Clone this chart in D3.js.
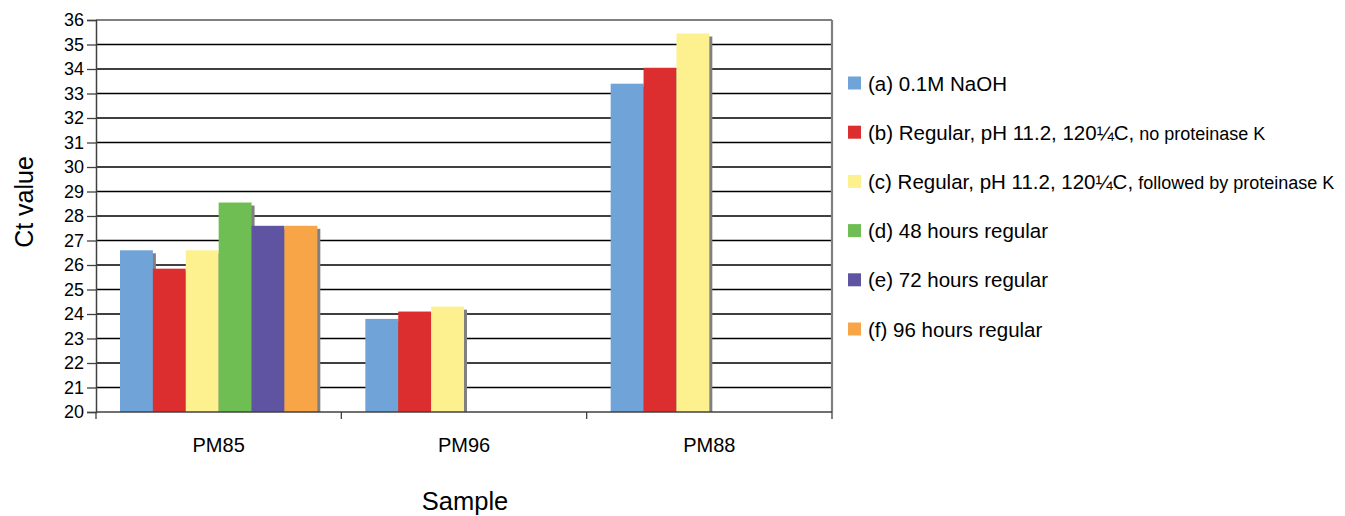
<!DOCTYPE html>
<html>
<head>
<meta charset="utf-8">
<script src="https://cdn.jsdelivr.net/npm/d3@7"></script>
<style>
  body { margin: 0; background: #fff; }
  text { font-family: "Liberation Sans", Arial, sans-serif; fill: #000; }
</style>
</head>
<body>
<div id="chart"></div>
<script>
// chart data
var categories = ["PM85", "PM96", "PM88"];
var seriesNames = [
  "(a) 0.1M NaOH",
  "(b) Regular, pH 11.2, 120\u00BCC,",
  "(c) Regular, pH 11.2, 120\u00BCC,",
  "(d) 48 hours regular",
  "(e) 72 hours regular",
  "(f) 96 hours regular"
];
// small-print tail of some legend entries
var seriesNotes = ["", " no proteinase K", " followed by proteinase K", "", "", ""];
var seriesColors = ["#70A3D8", "#DC2D2F", "#FDF18F", "#6FBE53", "#5E54A2", "#F8A548"];
var valuesA = [26.6, 23.8, 33.4];
var valuesB = [25.85, 24.1, 34.05];
var valuesC = [26.6, 24.3, 35.45];
var valuesD = [28.55, null, null];
var valuesE = [27.6, null, null];
var valuesF = [27.6, null, null];
var yTicks = d3.range(20, 37, 1);

var allValues = [valuesA, valuesB, valuesC, valuesD, valuesE, valuesF];

var svgWidth = 1345;
var svgHeight = 516;

// plot area bounds
var margin = { top: 20, left: 96, right: 513, bottom: 104 };
var plotRight = svgWidth - margin.right;
var plotBottom = svgHeight - margin.bottom;

var svg = d3.select("#chart")
  .append("svg")
  .attr("width", svgWidth)
  .attr("height", svgHeight);

// scales
var xScale = d3.scaleBand()
  .domain(categories)
  .range([margin.left, plotRight])
  .padding(0);

var slotScale = d3.scaleBand()
  .domain(d3.range(seriesNames.length))
  .range([24, xScale.bandwidth() - 24])
  .padding(0);

var yScale = d3.scaleLinear()
  .domain([20, 36])
  .range([plotBottom, margin.top]);

// gridlines
svg.append("g")
  .selectAll("line")
  .data(yTicks.filter(function(t) { return t > 20 && t < 36; }))
  .enter()
  .append("line")
  .attr("x1", margin.left)
  .attr("x2", plotRight)
  .attr("y1", function(d) { return yScale(d); })
  .attr("y2", function(d) { return yScale(d); })
  .attr("stroke", "#000")
  .attr("stroke-width", 1.7);

// top and right border
svg.append("line")
  .attr("x1", margin.left).attr("x2", plotRight)
  .attr("y1", yScale(36)).attr("y2", yScale(36))
  .attr("stroke", "#808080").attr("stroke-width", 2);
svg.append("line")
  .attr("x1", plotRight).attr("x2", plotRight)
  .attr("y1", yScale(36)).attr("y2", plotBottom)
  .attr("stroke", "#808080").attr("stroke-width", 2.2);

// flatten bars
var bars = [];
allValues.forEach(function(vals, si) {
  vals.forEach(function(v, ci) {
    if (v !== null) bars.push({ s: si, c: categories[ci], v: v });
  });
});

var barGroup = svg.append("g");

// shadows first, each bar then covers the previous shadow
bars.forEach(function(b) {
  var x = xScale(b.c) + slotScale(b.s);
  var w = slotScale.bandwidth();
  var y = yScale(b.v);
  barGroup.append("rect")
    .attr("x", x + 3)
    .attr("y", y + 3)
    .attr("width", w)
    .attr("height", plotBottom - y - 3)
    .attr("fill", "#808080");
  barGroup.append("rect")
    .attr("x", x)
    .attr("y", y)
    .attr("width", w)
    .attr("height", plotBottom - y)
    .attr("fill", seriesColors[b.s]);
});

// y axis
var yAxis = d3.axisLeft(yScale)
  .tickValues(yTicks)
  .tickSize(9)
  .tickPadding(3)
  .tickFormat(d3.format("d"));

var yAxisG = svg.append("g")
  .attr("transform", `translate(${margin.left}, 0)`)
  .call(yAxis);
yAxisG.select(".domain").attr("stroke", "#404040").attr("stroke-width", 1.5);
yAxisG.selectAll(".tick line").attr("stroke", "#404040").attr("stroke-width", 1.3);
yAxisG.selectAll(".tick text")
  .attr("font-size", "18px")
  .attr("font-family", "Liberation Sans, Arial, sans-serif")
  .attr("fill", "#000");

// x axis: ticks sit on category boundaries
var xAxisG = svg.append("g")
  .attr("transform", `translate(0, ${plotBottom})`);
xAxisG.append("line")
  .attr("x1", margin.left).attr("x2", plotRight)
  .attr("stroke", "#404040").attr("stroke-width", 1.5);
xAxisG.selectAll(".xtick")
  .data(categories.concat(["end"]))
  .enter()
  .append("line")
  .attr("x1", function(d, i) { return i < categories.length ? xScale(d) : plotRight; })
  .attr("x2", function(d, i) { return i < categories.length ? xScale(d) : plotRight; })
  .attr("y1", 0)
  .attr("y2", 7)
  .attr("stroke", "#404040")
  .attr("stroke-width", 1.3);
xAxisG.selectAll(".xlabel")
  .data(categories)
  .enter()
  .append("text")
  .attr("x", function(d) { return xScale(d) + xScale.bandwidth() / 2; })
  .attr("y", 40)
  .attr("text-anchor", "middle")
  .attr("font-size", "20px")
  .text(function(d) { return d; });

// axis titles
svg.append("text")
  .attr("transform", "translate(33, 202) rotate(-90)")
  .attr("text-anchor", "middle")
  .attr("font-size", "25px")
  .text("Ct value");

svg.append("text")
  .attr("x", 465)
  .attr("y", 510)
  .attr("text-anchor", "middle")
  .attr("font-size", "25.5px")
  .text("Sample");

// legend
var legend = svg.append("g")
  .selectAll("g")
  .data(seriesNames)
  .enter()
  .append("g")
  .attr("transform", function(d, i) { return `translate(848, ${83 + i * 49.2})`; });

legend.append("rect")
  .attr("x", 0)
  .attr("y", -6.5)
  .attr("width", 13)
  .attr("height", 13)
  .attr("fill", function(d, i) { return seriesColors[i]; });

var legendText = legend.append("text")
  .attr("x", 20)
  .attr("y", 7.5)
  .attr("font-size", "20.5px");
legendText.append("tspan").text(function(d) { return d; });
legendText.append("tspan")
  .attr("font-size", "18px")
  .text(function(d, i) { return seriesNotes[i]; });
</script>
</body>
</html>
